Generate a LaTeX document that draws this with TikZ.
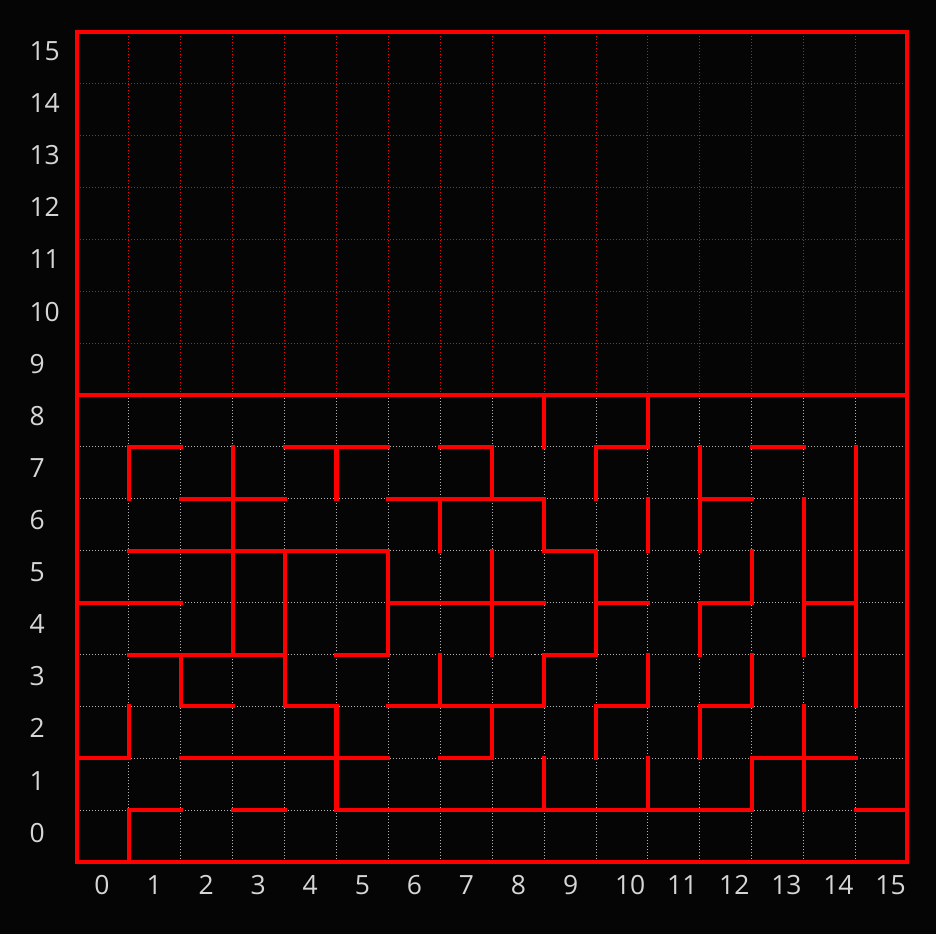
\documentclass[tikz,border=0pt]{standalone}
\usepackage{fontspec}
\setmainfont{Open Sans}
\definecolor{bgc}{HTML}{050505}
\definecolor{lblc}{HTML}{D6D6D6}
\definecolor{gridc}{HTML}{B4B4B4}
\begin{document}
\begin{tikzpicture}[x=1cm,y=1cm,
  wall/.style={draw=red, line width=2.2pt, line cap=rect, line join=miter},
  gridlow/.style={draw=gridc, line width=0.55pt, dash pattern=on 0.55pt off 1.1pt},
  gridhigh/.style={draw=red, line width=0.55pt, dash pattern=on 0.55pt off 1.1pt},
  lbl/.style={text=lblc, font=\fontsize{14.5}{16}\selectfont, inner sep=0pt, anchor=base west}]
\fill[bgc] (-1.483,-1.387) rectangle (16.55,16.61);
\useasboundingbox (-1.483,-1.387) rectangle (16.55,16.61);
% dotted grid
\foreach \x in {1,...,15} {
  \draw[gridlow] (\x,0) -- (\x,9);
  \draw[gridhigh] (\x,9) -- (\x,16);
}
\foreach \y in {1,...,8} \draw[gridlow] (0,\y) -- (16,\y);
\foreach \y in {10,...,15} \draw[gridhigh] (0,\y) -- (16,\y);
% horizontal walls
\foreach \y/\a/\b in {8/1/2, 8/4/6, 8/7/8, 8/10/11, 8/13/14,
  7/2/4, 7/6/9, 7/12/13,
  6/1/6, 6/9/10,
  5/0/2, 5/6/9, 5/10/11, 5/12/13, 5/14/15,
  4/1/4, 4/5/6, 4/9/10,
  3/2/3, 3/4/5, 3/6/9, 3/10/11, 3/12/13,
  2/0/1, 2/2/6, 2/7/8, 2/13/15,
  1/1/2, 1/3/4, 1/5/13, 1/15/16}
  \draw[wall] (\a,\y) -- (\b,\y);
% vertical walls
\foreach \x/\a/\b in {1/0/1, 1/2/3, 1/7/8, 2/3/4, 3/4/8, 4/3/6, 5/1/3, 5/7/8,
  6/4/6, 7/3/4, 7/6/7, 8/2/3, 8/4/6, 8/7/8, 9/1/2, 9/3/4, 9/6/7, 9/8/9,
  10/2/3, 10/4/6, 10/7/8, 11/1/2, 11/3/4, 11/6/7, 11/8/9,
  12/2/3, 12/4/5, 12/6/8, 13/1/2, 13/3/4, 13/5/6, 14/1/3, 14/4/7, 15/3/8}
  \draw[wall] (\x,\a) -- (\x,\b);
% border and divider
\draw[wall] (0,9) -- (16,9);
\draw[wall] (0,0) rectangle (16,16);
% labels
\foreach \i in {0,...,15} {
  \node[lbl] (row\i) at (-0.92,0.3855+1.0038*\i) {\i};
  \node[lbl] (col\i) at (0.33+1.003*\i,-0.617) {\i};
}
\end{tikzpicture}
\end{document}
